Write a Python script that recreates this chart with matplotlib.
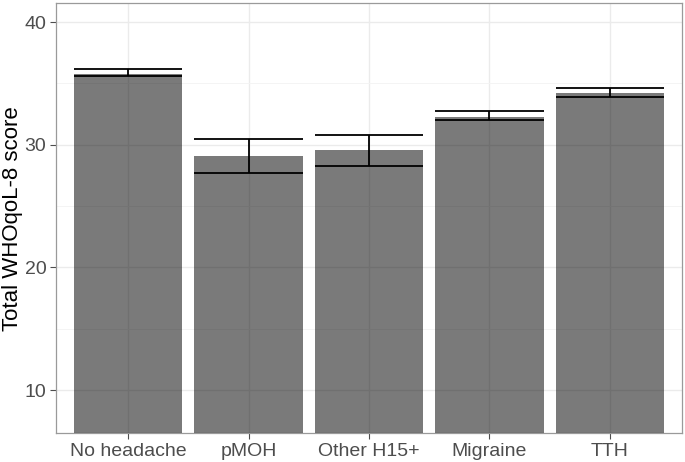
import matplotlib.pyplot as plt
import numpy as np

plt.rcParams['font.family'] = ['Liberation Sans', 'DejaVu Sans']

# ── Data ──
groups = ["No headache", "pMOH", "Other H15+", "Migraine", "TTH"]
mean_score = np.array([35.76, 29.10, 29.60, 32.28, 34.24])
ci_low = np.array([35.57, 27.72, 28.26, 32.01, 33.91])
ci_high = np.array([36.17, 30.46, 30.82, 32.77, 34.60])

# ── Figure ──
fig = plt.figure(figsize=(6.85, 4.62), dpi=100)
ax = fig.add_axes([0.0818, 0.0621, 0.9138, 0.9314])

x = np.arange(len(groups))
bar_w = 0.9

# error bars first so the translucent bars sit on top
ax.vlines(x, ci_low, ci_high, color="black", lw=1.3, zorder=2)
ax.hlines(ci_low, x - bar_w / 2, x + bar_w / 2, color="black", lw=1.3, zorder=2)
ax.hlines(ci_high, x - bar_w / 2, x + bar_w / 2, color="black", lw=1.3, zorder=2)

ax.bar(x, mean_score, width=bar_w, color="black", alpha=0.52,
       linewidth=0, zorder=3)

ax.set_xlim(-0.6, len(groups) - 0.4)
ax.set_ylim(6.47, 41.55)
ax.set_xticks(x)
ax.set_xticklabels(groups)
ax.set_yticks([10, 20, 30, 40])
ax.set_yticks([15, 25, 35], minor=True)
ax.set_ylabel("Total WHOqoL-8 score", fontsize=16, color="black")
ax.yaxis.set_label_coords(-0.053, 0.5)

# ── theme_bw look ──
ax.grid(True, which="major", color="#EBEBEB", lw=1.0, zorder=0)
ax.grid(True, which="minor", axis="y", color="#F3F3F3", lw=0.6, zorder=0)
ax.set_axisbelow(True)
ax.tick_params(axis="both", which="major", labelsize=14, colors="#4D4D4D",
               length=4, width=0.8, pad=3)
ax.tick_params(axis="both", which="minor", length=0)
for s in ax.spines.values():
    s.set_color("#9A9A9A")
    s.set_linewidth(0.9)

fig.savefig("out.png", dpi=100)
